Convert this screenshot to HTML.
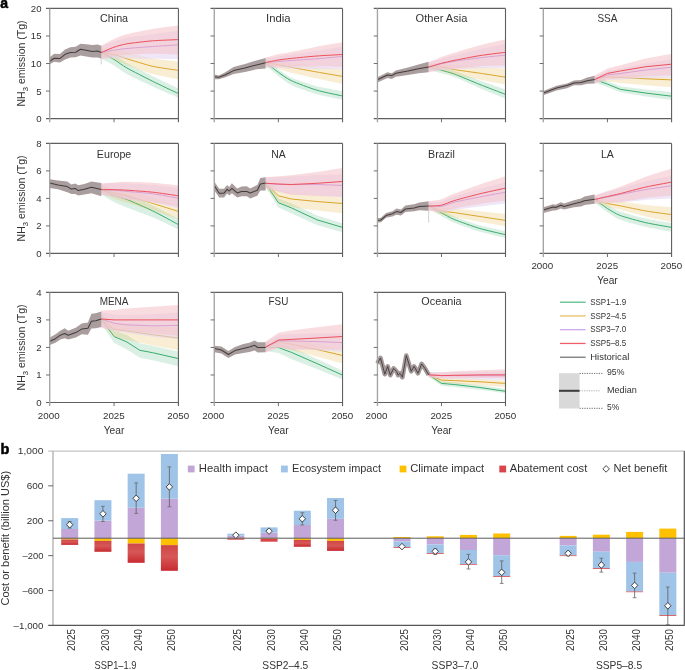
<!DOCTYPE html>
<html><head><meta charset="utf-8"><style>
html,body{margin:0;padding:0;background:#fff;}
body{width:685px;height:670px;overflow:hidden;}
svg{display:block;font-family:"Liberation Sans", sans-serif;will-change:transform;}
</style></head><body>
<svg width="685" height="670" viewBox="0 0 685 670">
<rect width="685" height="670" fill="#fff"/>
<path d="M101.19,48.5C102.69,49.26 111.06,53.31 114.07,55C117.07,56.69 122.43,60.53 126.94,63C131.44,65.47 146.68,73.2 152.68,76.15C158.69,79.1 175.43,86.88 178.43,88.3L178.43,97.7C175.43,96.39 158.69,89.19 152.68,86.45C146.68,83.71 131.44,76.63 126.94,74.2C122.43,71.77 117.07,67.43 114.07,65.6C111.06,63.77 102.69,59.33 101.19,58.5Z" fill="#3fb072" fill-opacity="0.19"/>
<path d="M101.19,52.5C102.69,53.32 111.06,57.69 114.07,59.5C117.07,61.31 122.43,65.46 126.94,68C131.44,70.54 146.68,78.31 152.68,81.3C158.69,84.29 175.43,92.16 178.43,93.6" fill="none" stroke="#38ad6c" stroke-width="1.0" stroke-linejoin="round"/>
<path d="M101.19,48.5C102.69,48.59 111.06,48.81 114.07,49.25C117.07,49.69 122.43,51.21 126.94,52.3C131.44,53.38 146.68,57.49 152.68,58.55C158.69,59.61 175.43,61.07 178.43,61.4L178.43,79.5C175.43,78.87 158.69,75.76 152.68,74.1C146.68,72.44 131.44,66.97 126.94,65.3C122.43,63.63 117.07,60.78 114.07,59.75C111.06,58.72 102.69,56.88 101.19,56.5Z" fill="#e6b84a" fill-opacity="0.24"/>
<path d="M101.19,52.5C102.69,52.73 111.06,53.77 114.07,54.5C117.07,55.23 122.43,57.42 126.94,58.8C131.44,60.18 146.68,64.95 152.68,66.3C158.69,67.65 175.43,69.92 178.43,70.4" fill="none" stroke="#dba52a" stroke-width="1.0" stroke-linejoin="round"/>
<path d="M101.19,46.5C102.69,45.94 111.06,42.75 114.07,41.7C117.07,40.65 122.43,38.38 126.94,37.5C131.44,36.62 146.68,34.9 152.68,34.15C158.69,33.4 175.43,31.46 178.43,31.1L178.43,59.4C175.43,59.33 158.69,58.9 152.68,58.8C146.68,58.7 131.44,58.54 126.94,58.5C122.43,58.46 117.07,58.39 114.07,58.45C111.06,58.51 102.69,58.94 101.19,59Z" fill="#e3d4f3" fill-opacity="0.58"/>
<path d="M101.19,52.5C102.69,52.23 111.06,50.67 114.07,50.2C117.07,49.73 122.43,48.93 126.94,48.5C131.44,48.07 146.68,46.93 152.68,46.5C158.69,46.07 175.43,45 178.43,44.8" fill="none" stroke="#b476e0" stroke-width="1.0" stroke-linejoin="round"/>
<path d="M101.19,45.5C102.69,44.73 111.06,40.22 114.07,38.9C117.07,37.58 122.43,35.36 126.94,34.2C131.44,33.04 146.68,29.96 152.68,28.95C158.69,27.93 175.43,25.9 178.43,25.5L178.43,54.7C175.43,54.6 158.69,53.84 152.68,53.85C146.68,53.86 131.44,54.55 126.94,54.8C122.43,55.04 117.07,55.46 114.07,55.95C111.06,56.44 102.69,58.64 101.19,59Z" fill="#f4c2c8" fill-opacity="0.58"/>
<path d="M101.19,52.5C102.69,51.88 111.06,48.22 114.07,47.2C117.07,46.19 122.43,44.55 126.94,43.8C131.44,43.05 146.68,41.29 152.68,40.8C158.69,40.31 175.43,39.74 178.43,39.6" fill="none" stroke="#ee4f5a" stroke-width="1.0" stroke-linejoin="round"/>
<path d="M49.7,57.3 L54.2,53.8 L59.9,54.1 L65.1,49.5 L70.4,47.3 L75.7,46.8 L80.5,43.8 L86.2,44.2 L92.3,45.1 L97.6,44.5 L101.3,45.7 L101.3,58.6 L97.6,57.6 L92.3,57.6 L86.2,56.5 L80.5,55.6 L75.7,57.3 L70.4,57.6 L65.1,59.5 L59.9,62.6 L54.2,61.7 L49.7,64.3Z" fill="#a99d9d"/>
<path d="M49.7,61.3 L54.2,58.2 L59.9,58.6 L65.1,54.3 L70.4,52.5 L75.7,52.3 L80.5,49.3 L86.2,50.3 L92.3,51.5 L97.6,51 L101.3,52.5" fill="none" stroke="#433d3e" stroke-width="1.05" stroke-linejoin="round"/>
<line x1="101.19" y1="58.6" x2="101.19" y2="64.4" stroke="#bdbdbd" stroke-width="0.7"/>
<line x1="46" y1="8.4" x2="178.43" y2="8.4" stroke="#5f5f5f" stroke-width="1.1"/>
<line x1="178.43" y1="8.4" x2="178.43" y2="122.26" stroke="#5f5f5f" stroke-width="1.1"/>
<line x1="46" y1="118.66" x2="178.43" y2="118.66" stroke="#5f5f5f" stroke-width="1.1"/>
<line x1="49.7" y1="8.4" x2="49.7" y2="122.26" stroke="#a3a3a3" stroke-width="1.35"/>
<line x1="46" y1="91.09" x2="49.7" y2="91.09" stroke="#5f5f5f" stroke-width="0.9"/>
<line x1="46" y1="63.53" x2="49.7" y2="63.53" stroke="#5f5f5f" stroke-width="0.9"/>
<line x1="46" y1="35.97" x2="49.7" y2="35.97" stroke="#5f5f5f" stroke-width="0.9"/>
<line x1="114.06" y1="118.66" x2="114.06" y2="122.26" stroke="#5f5f5f" stroke-width="0.9"/>
<text x="114.06" y="21.9" font-size="10.5" fill="#333333" text-anchor="middle" textLength="28.1" lengthAdjust="spacingAndGlyphs">China</text>
<path d="M265.57,59.5C267.06,60.64 275.4,67.19 278.39,69.3C281.39,71.41 286.73,75.61 291.22,77.6C295.71,79.59 310.9,84.75 316.88,86.35C322.87,87.95 339.55,90.72 342.54,91.3L342.54,99.9C339.55,99.25 322.87,96.05 316.88,94.3C310.9,92.55 295.71,87.04 291.22,84.9C286.73,82.76 281.39,78.21 278.39,75.95C275.4,73.69 267.06,66.72 265.57,65.5Z" fill="#3fb072" fill-opacity="0.19"/>
<path d="M265.57,62.5C267.06,63.64 275.4,70.19 278.39,72.3C281.39,74.41 286.73,78.51 291.22,80.6C295.71,82.69 310.9,88.4 316.88,90.2C322.87,92 339.55,95.32 342.54,96" fill="none" stroke="#38ad6c" stroke-width="1.0" stroke-linejoin="round"/>
<path d="M265.57,59.5C267.06,59.71 275.4,60.86 278.39,61.3C281.39,61.74 286.73,62.7 291.22,63.3C295.71,63.89 310.9,65.71 316.88,66.4C322.87,67.09 339.55,68.87 342.54,69.2L342.54,84C339.55,83.36 322.87,79.86 316.88,78.55C310.9,77.24 295.71,73.91 291.22,72.8C286.73,71.69 281.39,69.9 278.39,69.05C275.4,68.2 267.06,65.91 265.57,65.5Z" fill="#e6b84a" fill-opacity="0.24"/>
<path d="M265.57,62.5C267.06,62.77 275.4,64.24 278.39,64.8C281.39,65.36 286.73,66.46 291.22,67.3C295.71,68.14 310.9,70.94 316.88,72C322.87,73.06 339.55,75.89 342.54,76.4" fill="none" stroke="#dba52a" stroke-width="1.0" stroke-linejoin="round"/>
<path d="M265.57,58.5C267.06,58.27 275.4,56.97 278.39,56.5C281.39,56.03 286.73,55.16 291.22,54.5C295.71,53.84 310.9,51.74 316.88,50.8C322.87,49.85 339.55,46.91 342.54,46.4L342.54,69.2C339.55,69.2 322.87,69.28 316.88,69.2C310.9,69.12 295.71,68.64 291.22,68.5C286.73,68.36 281.39,68.12 278.39,68C275.4,67.88 267.06,67.56 265.57,67.5Z" fill="#e3d4f3" fill-opacity="0.58"/>
<path d="M265.57,62.5C267.06,62.38 275.4,61.73 278.39,61.5C281.39,61.27 286.73,60.81 291.22,60.5C295.71,60.19 310.9,59.28 316.88,58.8C322.87,58.32 339.55,56.68 342.54,56.4" fill="none" stroke="#b476e0" stroke-width="1.0" stroke-linejoin="round"/>
<path d="M265.57,57.5C267.06,57.12 275.4,54.9 278.39,54.25C281.39,53.6 286.73,52.79 291.22,51.9C295.71,51.01 310.9,47.77 316.88,46.65C322.87,45.53 339.55,42.81 342.54,42.3L342.54,66.8C339.55,66.72 322.87,66.2 316.88,66.15C310.9,66.1 295.71,66.36 291.22,66.4C286.73,66.44 281.39,66.37 278.39,66.5C275.4,66.63 267.06,67.38 265.57,67.5Z" fill="#f4c2c8" fill-opacity="0.58"/>
<path d="M265.57,62.5C267.06,62.21 275.4,60.48 278.39,60C281.39,59.52 286.73,58.87 291.22,58.4C295.71,57.93 310.9,56.45 316.88,56C322.87,55.55 339.55,54.67 342.54,54.5" fill="none" stroke="#ee4f5a" stroke-width="1.0" stroke-linejoin="round"/>
<path d="M214.4,74.5 L218.8,75.4 L224.9,72.6 L233.6,67.1 L245,64 L256.4,60.5 L265.6,57.9 L265.6,68.4 L256.4,69.3 L245,71.9 L233.6,74.1 L224.9,77.6 L218.8,79.3 L214.4,79.3Z" fill="#a99d9d"/>
<path d="M214.4,76.7 L218.8,77.2 L224.9,75 L233.6,70.6 L245,68 L256.4,64.9 L265.6,62.7" fill="none" stroke="#433d3e" stroke-width="1.05" stroke-linejoin="round"/>
<line x1="210.55" y1="8.4" x2="342.54" y2="8.4" stroke="#5f5f5f" stroke-width="1.1"/>
<line x1="342.54" y1="8.4" x2="342.54" y2="122.26" stroke="#5f5f5f" stroke-width="1.1"/>
<line x1="210.55" y1="118.66" x2="342.54" y2="118.66" stroke="#5f5f5f" stroke-width="1.1"/>
<line x1="214.25" y1="8.4" x2="214.25" y2="122.26" stroke="#a3a3a3" stroke-width="1.35"/>
<line x1="210.55" y1="91.09" x2="214.25" y2="91.09" stroke="#5f5f5f" stroke-width="0.9"/>
<line x1="210.55" y1="63.53" x2="214.25" y2="63.53" stroke="#5f5f5f" stroke-width="0.9"/>
<line x1="210.55" y1="35.97" x2="214.25" y2="35.97" stroke="#5f5f5f" stroke-width="0.9"/>
<line x1="278.39" y1="118.66" x2="278.39" y2="122.26" stroke="#5f5f5f" stroke-width="0.9"/>
<text x="278.39" y="21.9" font-size="10.5" fill="#333333" text-anchor="middle" textLength="24.5" lengthAdjust="spacingAndGlyphs">India</text>
<path d="M428.67,64C430.16,64.39 438.49,66.48 441.48,67.3C444.46,68.12 449.8,69.45 454.28,71C458.76,72.55 473.91,78.39 479.89,80.55C485.87,82.71 502.51,88.46 505.5,89.5L505.5,98.7C502.51,97.47 485.87,90.68 479.89,88.15C473.91,85.62 458.76,78.73 454.28,77C449.8,75.27 444.46,74.12 441.48,73.3C438.49,72.48 430.16,70.39 428.67,70Z" fill="#3fb072" fill-opacity="0.19"/>
<path d="M428.67,67C430.16,67.39 438.49,69.48 441.48,70.3C444.46,71.12 449.8,72.34 454.28,74C458.76,75.66 473.91,82.12 479.89,84.5C485.87,86.88 502.51,93.25 505.5,94.4" fill="none" stroke="#38ad6c" stroke-width="1.0" stroke-linejoin="round"/>
<path d="M428.67,64C430.16,63.89 438.49,62.92 441.48,63.05C444.46,63.18 449.8,64.68 454.28,65.1C458.76,65.52 473.91,66.24 479.89,66.65C485.87,67.06 502.51,68.37 505.5,68.6L505.5,84.6C502.51,84.02 485.87,80.76 479.89,79.65C473.91,78.54 458.76,76.1 454.28,75.1C449.8,74.1 444.46,71.64 441.48,71.05C438.49,70.45 430.16,70.12 428.67,70Z" fill="#e6b84a" fill-opacity="0.24"/>
<path d="M428.67,67C430.16,66.98 438.49,66.5 441.48,66.8C444.46,67.1 449.8,68.85 454.28,69.6C458.76,70.35 473.91,72.31 479.89,73.2C485.87,74.09 502.51,76.73 505.5,77.2" fill="none" stroke="#dba52a" stroke-width="1.0" stroke-linejoin="round"/>
<path d="M428.67,63C430.16,62.51 438.49,59.7 441.48,58.8C444.46,57.9 449.8,56.41 454.28,55.3C458.76,54.19 473.91,50.61 479.89,49.3C485.87,47.99 502.51,44.71 505.5,44.1L505.5,68C502.51,68.03 485.87,68.1 479.89,68.25C473.91,68.4 458.76,69.06 454.28,69.3C449.8,69.54 444.46,69.98 441.48,70.3C438.49,70.61 430.16,71.8 428.67,72Z" fill="#e3d4f3" fill-opacity="0.58"/>
<path d="M428.67,67C430.16,66.63 438.49,64.47 441.48,63.8C444.46,63.13 449.8,62 454.28,61.3C458.76,60.6 473.91,58.52 479.89,57.8C485.87,57.08 502.51,55.41 505.5,55.1" fill="none" stroke="#b476e0" stroke-width="1.0" stroke-linejoin="round"/>
<path d="M428.67,62C430.16,61.42 438.49,58.07 441.48,57C444.46,55.93 449.8,54.17 454.28,52.8C458.76,51.43 473.91,46.84 479.89,45.25C485.87,43.66 502.51,39.91 505.5,39.2L505.5,65.6C502.51,65.68 485.87,65.92 479.89,66.25C473.91,66.58 458.76,67.99 454.28,68.4C449.8,68.81 444.46,69.38 441.48,69.8C438.49,70.22 430.16,71.74 428.67,72Z" fill="#f4c2c8" fill-opacity="0.58"/>
<path d="M428.67,67C430.16,66.57 438.49,64.07 441.48,63.3C444.46,62.53 449.8,61.3 454.28,60.4C458.76,59.5 473.91,56.55 479.89,55.6C485.87,54.66 502.51,52.68 505.5,52.3" fill="none" stroke="#ee4f5a" stroke-width="1.0" stroke-linejoin="round"/>
<path d="M377.4,77.2 L387.5,72.3 L391.8,73.2 L395.8,70.6 L408,67.5 L418.5,64.5 L428.6,61.8 L428.6,72.3 L418.5,73.2 L408,75 L395.8,76.7 L391.8,78.9 L387.5,77.9 L377.4,82.4Z" fill="#a99d9d"/>
<path d="M377.4,79.8 L387.5,75 L391.8,75.6 L395.8,73.2 L408,71 L418.5,68.8 L428.6,67.1" fill="none" stroke="#433d3e" stroke-width="1.05" stroke-linejoin="round"/>
<line x1="373.75" y1="8.4" x2="505.5" y2="8.4" stroke="#5f5f5f" stroke-width="1.1"/>
<line x1="505.5" y1="8.4" x2="505.5" y2="122.26" stroke="#5f5f5f" stroke-width="1.1"/>
<line x1="373.75" y1="118.66" x2="505.5" y2="118.66" stroke="#5f5f5f" stroke-width="1.1"/>
<line x1="377.45" y1="8.4" x2="377.45" y2="122.26" stroke="#a3a3a3" stroke-width="1.35"/>
<line x1="373.75" y1="91.09" x2="377.45" y2="91.09" stroke="#5f5f5f" stroke-width="0.9"/>
<line x1="373.75" y1="63.53" x2="377.45" y2="63.53" stroke="#5f5f5f" stroke-width="0.9"/>
<line x1="373.75" y1="35.97" x2="377.45" y2="35.97" stroke="#5f5f5f" stroke-width="0.9"/>
<line x1="441.48" y1="118.66" x2="441.48" y2="122.26" stroke="#5f5f5f" stroke-width="0.9"/>
<text x="441.48" y="21.9" font-size="10.5" fill="#333333" text-anchor="middle" textLength="51.7" lengthAdjust="spacingAndGlyphs">Other Asia</text>
<path d="M594.61,76.5 L607.43,81.1 L620.26,86.3 L645.92,89.55 L671.57,92.1 L671.57,100.1 L645.92,96.55 L620.26,92.3 L607.43,87.1 L594.61,82.5Z" fill="#3fb072" fill-opacity="0.19"/>
<path d="M594.61,79.5 L607.43,84.1 L620.26,89.3 L645.92,93.1 L671.57,96.2" fill="none" stroke="#38ad6c" stroke-width="1.0" stroke-linejoin="round"/>
<path d="M594.61,76.5 L607.43,73.9 L620.26,74.5 L645.92,76.05 L671.57,77.4 L671.57,87.2 L645.92,85.2 L620.26,83 L607.43,81.15 L594.61,82.5Z" fill="#e6b84a" fill-opacity="0.24"/>
<path d="M594.61,79.5 L607.43,76.9 L620.26,77.5 L645.92,78.8 L671.57,79.9" fill="none" stroke="#dba52a" stroke-width="1.0" stroke-linejoin="round"/>
<path d="M594.61,76.5 L607.43,71 L620.26,68.5 L645.92,63.5 L671.57,59.2 L671.57,77.4 L645.92,78.1 L620.26,79.5 L607.43,80 L594.61,83.5Z" fill="#e3d4f3" fill-opacity="0.58"/>
<path d="M594.61,79.5 L607.43,75 L620.26,73.5 L645.92,70 L671.57,67.2" fill="none" stroke="#b476e0" stroke-width="1.0" stroke-linejoin="round"/>
<path d="M594.61,75.5 L607.43,68.55 L620.26,65.3 L645.92,58.6 L671.57,53.7 L671.57,75.6 L645.92,75.9 L620.26,78 L607.43,78.9 L594.61,83.5Z" fill="#f4c2c8" fill-opacity="0.58"/>
<path d="M594.61,79.5 L607.43,73.4 L620.26,71 L645.92,66.7 L671.57,64.2" fill="none" stroke="#ee4f5a" stroke-width="1.0" stroke-linejoin="round"/>
<path d="M543.4,91.1 L556.5,85.8 L567,83.4 L574,80.6 L581,80.1 L587.2,77.4 L594.6,75.7 L594.6,83.4 L587.2,83.8 L581,85.3 L574,85.3 L567,88.2 L556.5,90.4 L543.4,95.2Z" fill="#a99d9d"/>
<path d="M543.4,93 L556.5,88 L567,85.6 L574,83 L581,82.5 L587.2,80.8 L594.6,79.5" fill="none" stroke="#433d3e" stroke-width="1.05" stroke-linejoin="round"/>
<line x1="539.6" y1="8.4" x2="671.57" y2="8.4" stroke="#5f5f5f" stroke-width="1.1"/>
<line x1="671.57" y1="8.4" x2="671.57" y2="122.26" stroke="#5f5f5f" stroke-width="1.1"/>
<line x1="539.6" y1="118.66" x2="671.57" y2="118.66" stroke="#5f5f5f" stroke-width="1.1"/>
<line x1="543.3" y1="8.4" x2="543.3" y2="122.26" stroke="#a3a3a3" stroke-width="1.35"/>
<line x1="539.6" y1="91.09" x2="543.3" y2="91.09" stroke="#5f5f5f" stroke-width="0.9"/>
<line x1="539.6" y1="63.53" x2="543.3" y2="63.53" stroke="#5f5f5f" stroke-width="0.9"/>
<line x1="539.6" y1="35.97" x2="543.3" y2="35.97" stroke="#5f5f5f" stroke-width="0.9"/>
<line x1="607.43" y1="118.66" x2="607.43" y2="122.26" stroke="#5f5f5f" stroke-width="0.9"/>
<text x="607.43" y="21.9" font-size="10.5" fill="#333333" text-anchor="middle" textLength="20" lengthAdjust="spacingAndGlyphs">SSA</text>
<path d="M101.19,185.6C102.69,186.23 111.06,189.96 114.07,191C117.07,192.04 122.43,192.8 126.94,194.5C131.44,196.2 146.68,202.74 152.68,205.6C158.69,208.46 175.43,217.44 178.43,219L178.43,229.5C175.43,228.08 158.69,219.92 152.68,217.35C146.68,214.78 131.44,209.29 126.94,207.5C122.43,205.71 117.07,203.5 114.07,202C111.06,200.5 102.69,195.46 101.19,194.6Z" fill="#3fb072" fill-opacity="0.19"/>
<path d="M101.19,189.6C102.69,190.29 111.06,194.34 114.07,195.5C117.07,196.66 122.43,197.7 126.94,199.5C131.44,201.3 146.68,207.97 152.68,210.9C158.69,213.83 175.43,223 178.43,224.6" fill="none" stroke="#38ad6c" stroke-width="1.0" stroke-linejoin="round"/>
<path d="M101.19,185.6C102.69,185.94 111.06,188 114.07,188.55C117.07,189.1 122.43,189.24 126.94,190.3C131.44,191.36 146.68,195.89 152.68,197.65C158.69,199.41 175.43,204.5 178.43,205.4L178.43,219C175.43,218.03 158.69,212.59 152.68,210.7C146.68,208.81 131.44,204.19 126.94,202.8C122.43,201.41 117.07,199.87 114.07,198.8C111.06,197.73 102.69,194.21 101.19,193.6Z" fill="#e6b84a" fill-opacity="0.24"/>
<path d="M101.19,189.6C102.69,190.03 111.06,192.58 114.07,193.3C117.07,194.02 122.43,194.62 126.94,195.8C131.44,196.98 146.68,201.58 152.68,203.4C158.69,205.22 175.43,210.47 178.43,211.4" fill="none" stroke="#dba52a" stroke-width="1.0" stroke-linejoin="round"/>
<path d="M101.19,183.6C102.69,183.56 111.06,183.32 114.07,183.3C117.07,183.28 122.43,183.22 126.94,183.4C131.44,183.58 146.68,184.24 152.68,184.8C158.69,185.36 175.43,187.8 178.43,188.2L178.43,208.2C175.43,207.57 158.69,203.83 152.68,202.8C146.68,201.77 131.44,200.1 126.94,199.4C122.43,198.7 117.07,197.36 114.07,196.8C111.06,196.24 102.69,194.86 101.19,194.6Z" fill="#e3d4f3" fill-opacity="0.58"/>
<path d="M101.19,189.6C102.69,189.68 111.06,190.09 114.07,190.3C117.07,190.51 122.43,190.99 126.94,191.4C131.44,191.81 146.68,193.01 152.68,193.8C158.69,194.59 175.43,197.69 178.43,198.2" fill="none" stroke="#b476e0" stroke-width="1.0" stroke-linejoin="round"/>
<path d="M101.19,183.6C102.69,183.47 111.06,182.67 114.07,182.45C117.07,182.23 122.43,181.67 126.94,181.7C131.44,181.73 146.68,182.28 152.68,182.7C158.69,183.12 175.43,185 178.43,185.3L178.43,206.2C175.43,205.7 158.69,202.72 152.68,201.9C146.68,201.08 131.44,199.81 126.94,199.2C122.43,198.59 117.07,197.24 114.07,196.7C111.06,196.16 102.69,194.84 101.19,194.6Z" fill="#f4c2c8" fill-opacity="0.58"/>
<path d="M101.19,189.6C102.69,189.61 111.06,189.63 114.07,189.7C117.07,189.77 122.43,189.91 126.94,190.2C131.44,190.49 146.68,191.55 152.68,192.2C158.69,192.85 175.43,195.38 178.43,195.8" fill="none" stroke="#ee4f5a" stroke-width="1.0" stroke-linejoin="round"/>
<path d="M49.8,179.2 L58.1,180.5 L67.3,181.4 L71.3,184.5 L75.2,183.6 L78.3,185.3 L84.4,184 L91.4,181.4 L101.3,183.1 L101.3,196.3 L91.4,193.2 L84.4,194.5 L78.3,195.6 L75.2,194.1 L71.3,194.1 L67.3,192.3 L58.1,189.3 L49.8,188Z" fill="#a99d9d"/>
<path d="M49.8,183.1 L58.1,184.9 L67.3,186.6 L71.3,189.1 L75.2,188.4 L78.3,190.6 L84.4,189.3 L91.4,187.3 L101.3,189.4" fill="none" stroke="#433d3e" stroke-width="1.05" stroke-linejoin="round"/>
<line x1="46" y1="143.4" x2="178.43" y2="143.4" stroke="#5f5f5f" stroke-width="1.1"/>
<line x1="178.43" y1="143.4" x2="178.43" y2="257" stroke="#5f5f5f" stroke-width="1.1"/>
<line x1="46" y1="253.4" x2="178.43" y2="253.4" stroke="#5f5f5f" stroke-width="1.1"/>
<line x1="49.7" y1="143.4" x2="49.7" y2="257" stroke="#a3a3a3" stroke-width="1.35"/>
<line x1="46" y1="225.9" x2="49.7" y2="225.9" stroke="#5f5f5f" stroke-width="0.9"/>
<line x1="46" y1="198.4" x2="49.7" y2="198.4" stroke="#5f5f5f" stroke-width="0.9"/>
<line x1="46" y1="170.9" x2="49.7" y2="170.9" stroke="#5f5f5f" stroke-width="0.9"/>
<line x1="114.06" y1="253.4" x2="114.06" y2="257" stroke="#5f5f5f" stroke-width="0.9"/>
<text x="114.06" y="157.8" font-size="10.5" fill="#333333" text-anchor="middle" textLength="34.4" lengthAdjust="spacingAndGlyphs">Europe</text>
<path d="M265.57,179.3 L278.39,198.45 L291.22,203.3 L316.88,215.45 L342.54,223.2 L342.54,232.3 L316.88,225 L291.22,213.3 L278.39,207.45 L265.57,187.3Z" fill="#3fb072" fill-opacity="0.19"/>
<path d="M265.57,183.3 L278.39,202.7 L291.22,207.8 L316.88,219.8 L342.54,227.4" fill="none" stroke="#38ad6c" stroke-width="1.0" stroke-linejoin="round"/>
<path d="M265.57,179.3 L278.39,190.8 L291.22,193 L316.88,195.45 L342.54,197.4 L342.54,213.3 L316.88,210.4 L291.22,207 L278.39,201.8 L265.57,187.3Z" fill="#e6b84a" fill-opacity="0.24"/>
<path d="M265.57,183.3 L278.39,195.8 L291.22,199 L316.88,201.5 L342.54,203.5" fill="none" stroke="#dba52a" stroke-width="1.0" stroke-linejoin="round"/>
<path d="M265.57,177.3 L278.39,177.3 L291.22,176.6 L316.88,175 L342.54,174.4 L342.54,197.4 L316.88,195.5 L291.22,194.6 L278.39,191.8 L265.57,188.3Z" fill="#e3d4f3" fill-opacity="0.58"/>
<path d="M265.57,183.3 L278.39,184.3 L291.22,184.6 L316.88,184.5 L342.54,185.4" fill="none" stroke="#b476e0" stroke-width="1.0" stroke-linejoin="round"/>
<path d="M265.57,177.3 L278.39,176.35 L291.22,175.2 L316.88,171.9 L342.54,168 L342.54,196.8 L316.88,195.95 L291.22,194.5 L278.39,191.5 L265.57,188.3Z" fill="#f4c2c8" fill-opacity="0.58"/>
<path d="M265.57,183.3 L278.39,184 L291.22,184.5 L316.88,183.3 L342.54,181.5" fill="none" stroke="#ee4f5a" stroke-width="1.0" stroke-linejoin="round"/>
<path d="M214.4,181.8 L219.2,188.8 L224,188.8 L227.1,185.1 L229.3,187.1 L231.9,183.3 L237.2,188.4 L241.5,186.6 L246.8,186.2 L250.3,188.4 L257.3,184.9 L260.4,177.9 L265.6,177.2 L265.6,190.6 L260.4,190.6 L257.3,195.8 L250.3,198.5 L246.8,196.3 L241.5,196.3 L237.2,197.6 L231.9,193.2 L229.3,195.4 L227.1,193.6 L224,197.6 L219.2,197.6 L214.4,190.6Z" fill="#a99d9d"/>
<path d="M214.4,185.8 L219.2,193.2 L224,193.2 L227.1,189.3 L229.3,191 L231.9,188.4 L237.2,192.9 L241.5,191.5 L246.8,191.5 L250.3,192.9 L257.3,190.3 L260.4,184 L265.6,183.1" fill="none" stroke="#433d3e" stroke-width="1.05" stroke-linejoin="round"/>
<line x1="210.55" y1="143.4" x2="342.54" y2="143.4" stroke="#5f5f5f" stroke-width="1.1"/>
<line x1="342.54" y1="143.4" x2="342.54" y2="257" stroke="#5f5f5f" stroke-width="1.1"/>
<line x1="210.55" y1="253.4" x2="342.54" y2="253.4" stroke="#5f5f5f" stroke-width="1.1"/>
<line x1="214.25" y1="143.4" x2="214.25" y2="257" stroke="#a3a3a3" stroke-width="1.35"/>
<line x1="210.55" y1="225.9" x2="214.25" y2="225.9" stroke="#5f5f5f" stroke-width="0.9"/>
<line x1="210.55" y1="198.4" x2="214.25" y2="198.4" stroke="#5f5f5f" stroke-width="0.9"/>
<line x1="210.55" y1="170.9" x2="214.25" y2="170.9" stroke="#5f5f5f" stroke-width="0.9"/>
<line x1="278.39" y1="253.4" x2="278.39" y2="257" stroke="#5f5f5f" stroke-width="0.9"/>
<text x="278.39" y="157.8" font-size="10.5" fill="#333333" text-anchor="middle" textLength="14.5" lengthAdjust="spacingAndGlyphs">NA</text>
<path d="M428.67,203.1C430.16,203.88 438.49,208.24 441.48,209.8C444.46,211.36 449.8,214.7 454.28,216.5C458.76,218.3 473.91,223.53 479.89,225.25C485.87,226.97 502.51,230.51 505.5,231.2L505.5,238C502.51,237.27 485.87,233.53 479.89,231.75C473.91,229.97 458.76,224.55 454.28,222.7C449.8,220.85 444.46,217.49 441.48,215.9C438.49,214.31 430.16,209.89 428.67,209.1Z" fill="#3fb072" fill-opacity="0.19"/>
<path d="M428.67,206.1C430.16,206.88 438.49,211.24 441.48,212.8C444.46,214.36 449.8,217.67 454.28,219.5C458.76,221.33 473.91,226.73 479.89,228.5C485.87,230.27 502.51,233.98 505.5,234.7" fill="none" stroke="#38ad6c" stroke-width="1.0" stroke-linejoin="round"/>
<path d="M428.67,203.1C430.16,203.61 438.49,206.86 441.48,207.5C444.46,208.14 449.8,208.16 454.28,208.6C458.76,209.04 473.91,210.67 479.89,211.3C485.87,211.93 502.51,213.69 505.5,214L505.5,226.3C502.51,225.77 485.87,222.81 479.89,221.75C473.91,220.69 458.76,218.01 454.28,217.2C449.8,216.39 444.46,215.75 441.48,214.8C438.49,213.86 430.16,209.76 428.67,209.1Z" fill="#e6b84a" fill-opacity="0.24"/>
<path d="M428.67,206.1C430.16,206.67 438.49,210.24 441.48,211C444.46,211.76 449.8,211.96 454.28,212.6C458.76,213.24 473.91,215.59 479.89,216.5C485.87,217.41 502.51,219.94 505.5,220.4" fill="none" stroke="#dba52a" stroke-width="1.0" stroke-linejoin="round"/>
<path d="M428.67,202.1C430.16,202.02 438.49,202.09 441.48,201.4C444.46,200.71 449.8,197.66 454.28,196.2C458.76,194.74 473.91,190.53 479.89,188.9C485.87,187.27 502.51,182.98 505.5,182.2L505.5,203.6C502.51,203.95 485.87,205.83 479.89,206.6C473.91,207.37 458.76,209.52 454.28,210.2C449.8,210.88 444.46,212.41 441.48,212.4C438.49,212.39 430.16,210.37 428.67,210.1Z" fill="#e3d4f3" fill-opacity="0.58"/>
<path d="M428.67,206.1C430.16,206.13 438.49,206.86 441.48,206.4C444.46,205.94 449.8,203.31 454.28,202.2C458.76,201.09 473.91,198.07 479.89,196.9C485.87,195.73 502.51,192.75 505.5,192.2" fill="none" stroke="#b476e0" stroke-width="1.0" stroke-linejoin="round"/>
<path d="M428.67,201.1C430.16,200.88 438.49,200.07 441.48,199.2C444.46,198.32 449.8,195.33 454.28,193.6C458.76,191.87 473.91,186.42 479.89,184.4C485.87,182.38 502.51,177.24 505.5,176.3L505.5,200.6C502.51,201 485.87,203.12 479.89,204.05C473.91,204.98 458.76,207.71 454.28,208.6C449.8,209.49 444.46,211.41 441.48,211.7C438.49,211.99 430.16,211.17 428.67,211.1Z" fill="#f4c2c8" fill-opacity="0.58"/>
<path d="M428.67,206.1C430.16,206 438.49,205.84 441.48,205.2C444.46,204.56 449.8,201.93 454.28,200.6C458.76,199.27 473.91,195.26 479.89,193.8C485.87,192.34 502.51,188.76 505.5,188.1" fill="none" stroke="#ee4f5a" stroke-width="1.0" stroke-linejoin="round"/>
<path d="M377.4,218.2 L380.9,217.8 L386.1,213 L392.3,211.2 L396.6,208.6 L401,209.5 L405.4,205.5 L414.2,204.2 L419.4,202.4 L428.6,201.3 L428.6,210.8 L419.4,210.3 L414.2,211.2 L405.4,212.1 L401,215.6 L396.6,214.7 L392.3,216.5 L386.1,217.8 L380.9,222.2 L377.4,222.6Z" fill="#a99d9d"/>
<path d="M377.4,220.4 L380.9,220 L386.1,215.6 L392.3,213.8 L396.6,211.6 L401,212.5 L405.4,209 L414.2,208.1 L419.4,206.4 L428.6,206" fill="none" stroke="#433d3e" stroke-width="1.05" stroke-linejoin="round"/>
<line x1="428.67" y1="210.8" x2="428.67" y2="222.6" stroke="#bdbdbd" stroke-width="0.7"/>
<line x1="373.75" y1="143.4" x2="505.5" y2="143.4" stroke="#5f5f5f" stroke-width="1.1"/>
<line x1="505.5" y1="143.4" x2="505.5" y2="257" stroke="#5f5f5f" stroke-width="1.1"/>
<line x1="373.75" y1="253.4" x2="505.5" y2="253.4" stroke="#5f5f5f" stroke-width="1.1"/>
<line x1="377.45" y1="143.4" x2="377.45" y2="257" stroke="#a3a3a3" stroke-width="1.35"/>
<line x1="373.75" y1="225.9" x2="377.45" y2="225.9" stroke="#5f5f5f" stroke-width="0.9"/>
<line x1="373.75" y1="198.4" x2="377.45" y2="198.4" stroke="#5f5f5f" stroke-width="0.9"/>
<line x1="373.75" y1="170.9" x2="377.45" y2="170.9" stroke="#5f5f5f" stroke-width="0.9"/>
<line x1="441.48" y1="253.4" x2="441.48" y2="257" stroke="#5f5f5f" stroke-width="0.9"/>
<text x="441.48" y="157.8" font-size="10.5" fill="#333333" text-anchor="middle" textLength="26.7" lengthAdjust="spacingAndGlyphs">Brazil</text>
<path d="M594.61,196.5C596.1,197.49 604.44,203.25 607.43,205C610.43,206.75 615.77,209.91 620.26,211.5C624.75,213.09 639.93,217.23 645.92,218.6C651.9,219.97 668.58,222.66 671.57,223.2L671.57,231.7C668.58,231.15 651.9,228.39 645.92,227C639.93,225.61 624.75,221.53 620.26,219.8C615.77,218.07 610.43,214.17 607.43,212.15C604.44,210.13 596.1,203.63 594.61,202.5Z" fill="#3fb072" fill-opacity="0.19"/>
<path d="M594.61,199.5C596.1,200.55 604.44,206.63 607.43,208.5C610.43,210.37 615.77,213.84 620.26,215.5C624.75,217.16 639.93,221.31 645.92,222.7C651.9,224.09 668.58,226.85 671.57,227.4" fill="none" stroke="#38ad6c" stroke-width="1.0" stroke-linejoin="round"/>
<path d="M594.61,196.5C596.1,196.88 604.44,199.19 607.43,199.75C610.43,200.31 615.77,200.68 620.26,201.3C624.75,201.92 639.93,204.36 645.92,205.05C651.9,205.74 668.58,206.95 671.57,207.2L671.57,221.9C668.58,221.29 651.9,218.06 645.92,216.65C639.93,215.24 624.75,210.93 620.26,209.8C615.77,208.67 610.43,207.85 607.43,207C604.44,206.15 596.1,203.03 594.61,202.5Z" fill="#e6b84a" fill-opacity="0.24"/>
<path d="M594.61,199.5C596.1,199.97 604.44,202.76 607.43,203.5C610.43,204.24 615.77,204.93 620.26,205.8C624.75,206.68 639.93,209.97 645.92,211C651.9,212.03 668.58,214.18 671.57,214.6" fill="none" stroke="#dba52a" stroke-width="1.0" stroke-linejoin="round"/>
<path d="M594.61,195.5C596.1,195.09 604.44,192.82 607.43,192C610.43,191.18 615.77,189.72 620.26,188.5C624.75,187.28 639.93,182.98 645.92,181.5C651.9,180.02 668.58,176.47 671.57,175.8L671.57,198.6C668.58,198.75 651.9,199.45 645.92,199.9C639.93,200.35 624.75,202.14 620.26,202.5C615.77,202.86 610.43,202.88 607.43,203C604.44,203.12 596.1,203.44 594.61,203.5Z" fill="#e3d4f3" fill-opacity="0.58"/>
<path d="M594.61,199.5C596.1,199.21 604.44,197.58 607.43,197C610.43,196.42 615.77,195.38 620.26,194.5C624.75,193.62 639.93,190.51 645.92,189.5C651.9,188.49 668.58,186.23 671.57,185.8" fill="none" stroke="#b476e0" stroke-width="1.0" stroke-linejoin="round"/>
<path d="M594.61,195.5C596.1,194.99 604.44,192.12 607.43,191.1C610.43,190.08 615.77,188.46 620.26,186.8C624.75,185.14 639.93,178.97 645.92,176.85C651.9,174.73 668.58,169.56 671.57,168.6L671.57,195.6C668.58,195.88 651.9,197.24 645.92,198C639.93,198.76 624.75,201.55 620.26,202.1C615.77,202.65 610.43,202.59 607.43,202.75C604.44,202.91 596.1,203.41 594.61,203.5Z" fill="#f4c2c8" fill-opacity="0.58"/>
<path d="M594.61,199.5C596.1,199.15 604.44,197.19 607.43,196.5C610.43,195.81 615.77,194.71 620.26,193.6C624.75,192.49 639.93,188.34 645.92,187C651.9,185.66 668.58,182.67 671.57,182.1" fill="none" stroke="#ee4f5a" stroke-width="1.0" stroke-linejoin="round"/>
<path d="M543.4,207.3 L553,204.3 L555.6,204.7 L560.9,202.3 L564,203.4 L574,200.3 L581,198.6 L584.5,196.4 L594.6,194.6 L594.6,203.8 L584.5,205 L581,206.5 L574,207.3 L564,209.5 L560.9,208.5 L555.6,210.4 L553,210.4 L543.4,212.9Z" fill="#a99d9d"/>
<path d="M543.4,210 L553,206.9 L555.6,207.6 L560.9,205.3 L564,206.5 L574,203.8 L581,202.1 L584.5,200.8 L594.6,199.2" fill="none" stroke="#433d3e" stroke-width="1.05" stroke-linejoin="round"/>
<line x1="539.6" y1="143.4" x2="671.57" y2="143.4" stroke="#5f5f5f" stroke-width="1.1"/>
<line x1="671.57" y1="143.4" x2="671.57" y2="257" stroke="#5f5f5f" stroke-width="1.1"/>
<line x1="539.6" y1="253.4" x2="671.57" y2="253.4" stroke="#5f5f5f" stroke-width="1.1"/>
<line x1="543.3" y1="143.4" x2="543.3" y2="257" stroke="#a3a3a3" stroke-width="1.35"/>
<line x1="539.6" y1="225.9" x2="543.3" y2="225.9" stroke="#5f5f5f" stroke-width="0.9"/>
<line x1="539.6" y1="198.4" x2="543.3" y2="198.4" stroke="#5f5f5f" stroke-width="0.9"/>
<line x1="539.6" y1="170.9" x2="543.3" y2="170.9" stroke="#5f5f5f" stroke-width="0.9"/>
<line x1="607.43" y1="253.4" x2="607.43" y2="257" stroke="#5f5f5f" stroke-width="0.9"/>
<text x="607.43" y="157.8" font-size="10.5" fill="#333333" text-anchor="middle" textLength="12.9" lengthAdjust="spacingAndGlyphs">LA</text>
<path d="M101.19,314 L114.07,330.5 L126.94,335 L139.81,343.28 L152.68,345.65 L178.43,351.5 L178.43,366.2 L152.68,360.25 L139.81,357.82 L126.94,349.5 L114.07,342.75 L101.19,324Z" fill="#3fb072" fill-opacity="0.19"/>
<path d="M101.19,319 L114.07,336.5 L126.94,342 L139.81,350.3 L152.68,352.7 L178.43,358.6" fill="none" stroke="#38ad6c" stroke-width="1.0" stroke-linejoin="round"/>
<path d="M101.19,314 L114.07,322.9 L126.94,322.9 L152.68,325.7 L178.43,328 L178.43,350.3 L152.68,345.35 L126.94,339.9 L114.07,336.4 L101.19,324Z" fill="#e6b84a" fill-opacity="0.24"/>
<path d="M101.19,319 L114.07,329.4 L126.94,330.9 L152.68,334.7 L178.43,338" fill="none" stroke="#dba52a" stroke-width="1.0" stroke-linejoin="round"/>
<path d="M101.19,312 L114.07,314.8 L126.94,314.9 L152.68,314.3 L178.43,312.4 L178.43,339.2 L152.68,336.7 L126.94,332.9 L114.07,331.3 L101.19,327Z" fill="#e3d4f3" fill-opacity="0.58"/>
<path d="M101.19,319 L114.07,323.3 L126.94,324.9 L152.68,325.8 L178.43,325.4" fill="none" stroke="#b476e0" stroke-width="1.0" stroke-linejoin="round"/>
<path d="M101.19,310.5 L114.07,309.9 L126.94,308.4 L152.68,306.65 L178.43,304.9 L178.43,335.6 L152.68,333.25 L126.94,330.9 L114.07,329.9 L101.19,328Z" fill="#f4c2c8" fill-opacity="0.58"/>
<path d="M101.19,319 L114.07,319.9 L126.94,319.9 L152.68,319.9 L178.43,319.9" fill="none" stroke="#ee4f5a" stroke-width="1.0" stroke-linejoin="round"/>
<path d="M49.8,337.4 L55.5,334.3 L60.3,330.8 L64.7,328.2 L68.2,330.8 L75.7,327.8 L81.8,323.4 L87.9,322.5 L91.4,313.8 L95.8,313.3 L101.3,311.6 L101.3,326.9 L95.8,328.2 L91.4,328.6 L87.9,334.8 L81.8,334.3 L75.7,337.4 L68.2,339.6 L64.7,338.3 L60.3,339.6 L55.5,342.7 L49.8,344.9Z" fill="#a99d9d"/>
<path d="M49.8,341.3 L55.5,338.7 L60.3,335.2 L64.7,333.5 L68.2,335.2 L75.7,332.6 L81.8,329.1 L87.9,328.2 L91.4,321.2 L95.8,320.8 L101.3,319" fill="none" stroke="#433d3e" stroke-width="1.05" stroke-linejoin="round"/>
<line x1="46" y1="292.4" x2="178.43" y2="292.4" stroke="#5f5f5f" stroke-width="1.1"/>
<line x1="178.43" y1="292.4" x2="178.43" y2="406.1" stroke="#5f5f5f" stroke-width="1.1"/>
<line x1="46" y1="402.5" x2="178.43" y2="402.5" stroke="#5f5f5f" stroke-width="1.1"/>
<line x1="49.7" y1="292.4" x2="49.7" y2="406.1" stroke="#a3a3a3" stroke-width="1.35"/>
<line x1="46" y1="374.98" x2="49.7" y2="374.98" stroke="#5f5f5f" stroke-width="0.9"/>
<line x1="46" y1="347.45" x2="49.7" y2="347.45" stroke="#5f5f5f" stroke-width="0.9"/>
<line x1="46" y1="319.92" x2="49.7" y2="319.92" stroke="#5f5f5f" stroke-width="0.9"/>
<line x1="114.06" y1="402.5" x2="114.06" y2="406.1" stroke="#5f5f5f" stroke-width="0.9"/>
<text x="114.06" y="304.7" font-size="10.5" fill="#333333" text-anchor="middle" textLength="28.8" lengthAdjust="spacingAndGlyphs">MENA</text>
<path d="M265.57,343.1 L278.39,343 L291.22,347.3 L316.88,358.85 L342.54,370.8 L342.54,379.4 L316.88,369.05 L291.22,359.1 L278.39,352.9 L265.57,351.1Z" fill="#3fb072" fill-opacity="0.19"/>
<path d="M265.57,347.1 L278.39,347.5 L291.22,352.3 L316.88,363.5 L342.54,375.1" fill="none" stroke="#38ad6c" stroke-width="1.0" stroke-linejoin="round"/>
<path d="M265.57,343.1 L278.39,337.5 L291.22,339.2 L316.88,344 L342.54,349.5 L342.54,363.4 L316.88,356.45 L291.22,350.2 L278.39,347 L265.57,351.1Z" fill="#e6b84a" fill-opacity="0.24"/>
<path d="M265.57,347.1 L278.39,342 L291.22,344.2 L316.88,349.5 L342.54,355.5" fill="none" stroke="#dba52a" stroke-width="1.0" stroke-linejoin="round"/>
<path d="M265.57,342.1 L278.39,334.8 L291.22,334 L316.88,333.6 L342.54,333.6 L342.54,351.8 L316.88,350.2 L291.22,349 L278.39,347.3 L265.57,352.1Z" fill="#e3d4f3" fill-opacity="0.58"/>
<path d="M265.57,347.1 L278.39,340.8 L291.22,341 L316.88,341.6 L342.54,342.6" fill="none" stroke="#b476e0" stroke-width="1.0" stroke-linejoin="round"/>
<path d="M265.57,341.4 L278.39,332.75 L291.22,330.4 L316.88,327.35 L342.54,324.2 L342.54,349.3 L316.88,349.4 L291.22,349.4 L278.39,347.85 L265.57,352.6Z" fill="#f4c2c8" fill-opacity="0.58"/>
<path d="M265.57,347.1 L278.39,340.1 L291.22,339.4 L316.88,338 L342.54,336.5" fill="none" stroke="#ee4f5a" stroke-width="1.0" stroke-linejoin="round"/>
<path d="M214.4,345.8 L221.4,346.6 L228.4,351 L235,347.1 L243.3,344 L249.4,342.7 L254.7,340.5 L257.7,342.3 L265.6,342.3 L265.6,352.3 L257.7,352.6 L254.7,350.6 L249.4,351.9 L243.3,353 L235,354.5 L228.4,357.9 L221.4,353.5 L214.4,352.3Z" fill="#a99d9d"/>
<path d="M214.4,348.4 L221.4,350 L228.4,354.5 L235,350.6 L243.3,348.6 L249.4,347.1 L254.7,345.3 L257.7,347.5 L265.6,347.5" fill="none" stroke="#433d3e" stroke-width="1.05" stroke-linejoin="round"/>
<line x1="210.55" y1="292.4" x2="342.54" y2="292.4" stroke="#5f5f5f" stroke-width="1.1"/>
<line x1="342.54" y1="292.4" x2="342.54" y2="406.1" stroke="#5f5f5f" stroke-width="1.1"/>
<line x1="210.55" y1="402.5" x2="342.54" y2="402.5" stroke="#5f5f5f" stroke-width="1.1"/>
<line x1="214.25" y1="292.4" x2="214.25" y2="406.1" stroke="#a3a3a3" stroke-width="1.35"/>
<line x1="210.55" y1="374.98" x2="214.25" y2="374.98" stroke="#5f5f5f" stroke-width="0.9"/>
<line x1="210.55" y1="347.45" x2="214.25" y2="347.45" stroke="#5f5f5f" stroke-width="0.9"/>
<line x1="210.55" y1="319.92" x2="214.25" y2="319.92" stroke="#5f5f5f" stroke-width="0.9"/>
<line x1="278.39" y1="402.5" x2="278.39" y2="406.1" stroke="#5f5f5f" stroke-width="0.9"/>
<text x="278.39" y="304.7" font-size="10.5" fill="#333333" text-anchor="middle" textLength="19.8" lengthAdjust="spacingAndGlyphs">FSU</text>
<path d="M428.67,372.8 L441.48,381.3 L454.28,382.3 L479.89,385.2 L505.5,388.9 L505.5,393.3 L479.89,389.8 L454.28,387.1 L441.48,385.7 L428.67,376.8Z" fill="#3fb072" fill-opacity="0.19"/>
<path d="M428.67,374.8 L441.48,383.4 L454.28,384.5 L479.89,387.5 L505.5,391.3" fill="none" stroke="#38ad6c" stroke-width="1.0" stroke-linejoin="round"/>
<path d="M428.67,372.8 L441.48,377.85 L454.28,378.1 L479.89,379.05 L505.5,380.4 L505.5,386.9 L479.89,385.15 L454.28,383.8 L441.48,382.7 L428.67,376.8Z" fill="#e6b84a" fill-opacity="0.24"/>
<path d="M428.67,374.8 L441.48,380.1 L454.28,380.6 L479.89,381.8 L505.5,383.4" fill="none" stroke="#dba52a" stroke-width="1.0" stroke-linejoin="round"/>
<path d="M428.67,372.3 L441.48,372.6 L454.28,372.1 L479.89,371.7 L505.5,371.3 L505.5,380.1 L479.89,379.6 L454.28,379.1 L441.48,378.6 L428.67,377.3Z" fill="#e3d4f3" fill-opacity="0.58"/>
<path d="M428.67,374.8 L441.48,375.6 L454.28,375.6 L479.89,375.7 L505.5,375.8" fill="none" stroke="#b476e0" stroke-width="1.0" stroke-linejoin="round"/>
<path d="M428.67,372.3 L441.48,372.35 L454.28,371.3 L479.89,370.15 L505.5,369.3 L505.5,378.1 L479.89,378.05 L454.28,378.3 L441.48,378.35 L428.67,377.3Z" fill="#f4c2c8" fill-opacity="0.58"/>
<path d="M428.67,374.8 L441.48,375.6 L454.28,375.3 L479.89,374.9 L505.5,374.8" fill="none" stroke="#ee4f5a" stroke-width="1.0" stroke-linejoin="round"/>
<path d="M377.3,363.5 L380.5,358 L384.8,374.2 L387.7,366.4 L390.3,375.2 L393.6,368.4 L396.5,371.3 L398.1,375.2 L400,373.3 L402.4,377.2 L406.3,355.6 L411.2,371.3 L414.1,366.4 L418,373.3 L421.6,363.9 L424.9,368.4 L428.7,374.8" fill="none" stroke="#a39797" stroke-width="4.6" stroke-linejoin="round"/>
<path d="M377.3,363.5 L380.5,358 L384.8,374.2 L387.7,366.4 L390.3,375.2 L393.6,368.4 L396.5,371.3 L398.1,375.2 L400,373.3 L402.4,377.2 L406.3,355.6 L411.2,371.3 L414.1,366.4 L418,373.3 L421.6,363.9 L424.9,368.4 L428.7,374.8" fill="none" stroke="#3f3a3b" stroke-width="0.9" stroke-linejoin="round"/>
<line x1="373.75" y1="292.4" x2="505.5" y2="292.4" stroke="#5f5f5f" stroke-width="1.1"/>
<line x1="505.5" y1="292.4" x2="505.5" y2="406.1" stroke="#5f5f5f" stroke-width="1.1"/>
<line x1="373.75" y1="402.5" x2="505.5" y2="402.5" stroke="#5f5f5f" stroke-width="1.1"/>
<line x1="377.45" y1="292.4" x2="377.45" y2="406.1" stroke="#a3a3a3" stroke-width="1.35"/>
<line x1="373.75" y1="374.98" x2="377.45" y2="374.98" stroke="#5f5f5f" stroke-width="0.9"/>
<line x1="373.75" y1="347.45" x2="377.45" y2="347.45" stroke="#5f5f5f" stroke-width="0.9"/>
<line x1="373.75" y1="319.92" x2="377.45" y2="319.92" stroke="#5f5f5f" stroke-width="0.9"/>
<line x1="441.48" y1="402.5" x2="441.48" y2="406.1" stroke="#5f5f5f" stroke-width="0.9"/>
<text x="441.48" y="304.7" font-size="10.5" fill="#333333" text-anchor="middle" textLength="40.3" lengthAdjust="spacingAndGlyphs">Oceania</text>
<text x="41.5" y="122.06" font-size="9.6" fill="#333333" text-anchor="end">0</text>
<text x="41.5" y="94.5" font-size="9.6" fill="#333333" text-anchor="end">5</text>
<text x="41.5" y="66.93" font-size="9.6" fill="#333333" text-anchor="end">10</text>
<text x="41.5" y="39.37" font-size="9.6" fill="#333333" text-anchor="end">15</text>
<text x="41.5" y="11.8" font-size="9.6" fill="#333333" text-anchor="end">20</text>
<text transform="translate(24.9,63.53) rotate(-90)" font-size="10.3" fill="#333333" text-anchor="middle" textLength="86" lengthAdjust="spacingAndGlyphs">NH<tspan font-size="7.6" dy="3.2">3</tspan><tspan dy="-3.2"> emission (Tg)</tspan></text>
<text x="41.5" y="256.8" font-size="9.6" fill="#333333" text-anchor="end">0</text>
<text x="41.5" y="229.3" font-size="9.6" fill="#333333" text-anchor="end">2</text>
<text x="41.5" y="201.8" font-size="9.6" fill="#333333" text-anchor="end">4</text>
<text x="41.5" y="174.3" font-size="9.6" fill="#333333" text-anchor="end">6</text>
<text x="41.5" y="146.8" font-size="9.6" fill="#333333" text-anchor="end">8</text>
<text transform="translate(24.9,198.4) rotate(-90)" font-size="10.3" fill="#333333" text-anchor="middle" textLength="86" lengthAdjust="spacingAndGlyphs">NH<tspan font-size="7.6" dy="3.2">3</tspan><tspan dy="-3.2"> emission (Tg)</tspan></text>
<text x="41.5" y="405.9" font-size="9.6" fill="#333333" text-anchor="end">0</text>
<text x="41.5" y="378.38" font-size="9.6" fill="#333333" text-anchor="end">1</text>
<text x="41.5" y="350.85" font-size="9.6" fill="#333333" text-anchor="end">2</text>
<text x="41.5" y="323.32" font-size="9.6" fill="#333333" text-anchor="end">3</text>
<text x="41.5" y="295.8" font-size="9.6" fill="#333333" text-anchor="end">4</text>
<text transform="translate(24.9,347.45) rotate(-90)" font-size="10.3" fill="#333333" text-anchor="middle" textLength="86" lengthAdjust="spacingAndGlyphs">NH<tspan font-size="7.6" dy="3.2">3</tspan><tspan dy="-3.2"> emission (Tg)</tspan></text>
<text x="48.7" y="418.6" font-size="9.8" fill="#333333" text-anchor="middle">2000</text>
<text x="113.87" y="418.6" font-size="9.8" fill="#333333" text-anchor="middle">2025</text>
<text x="178.23" y="418.6" font-size="9.8" fill="#333333" text-anchor="middle">2050</text>
<text x="114.06" y="434.1" font-size="10.2" fill="#333333" text-anchor="middle">Year</text>
<text x="213.25" y="418.6" font-size="9.8" fill="#333333" text-anchor="middle">2000</text>
<text x="278.19" y="418.6" font-size="9.8" fill="#333333" text-anchor="middle">2025</text>
<text x="342.34" y="418.6" font-size="9.8" fill="#333333" text-anchor="middle">2050</text>
<text x="278.39" y="434.1" font-size="10.2" fill="#333333" text-anchor="middle">Year</text>
<text x="376.45" y="418.6" font-size="9.8" fill="#333333" text-anchor="middle">2000</text>
<text x="441.28" y="418.6" font-size="9.8" fill="#333333" text-anchor="middle">2025</text>
<text x="505.3" y="418.6" font-size="9.8" fill="#333333" text-anchor="middle">2050</text>
<text x="441.48" y="434.1" font-size="10.2" fill="#333333" text-anchor="middle">Year</text>
<text x="542.3" y="268.7" font-size="9.8" fill="#333333" text-anchor="middle">2000</text>
<text x="607.23" y="268.7" font-size="9.8" fill="#333333" text-anchor="middle">2025</text>
<text x="671.37" y="268.7" font-size="9.8" fill="#333333" text-anchor="middle">2050</text>
<text x="607.43" y="284.04" font-size="10.2" fill="#333333" text-anchor="middle">Year</text>
<text x="0.3" y="8.4" font-size="14" fill="#000" font-weight="bold" stroke="#000" stroke-width="0.5">a</text>
<text x="0.5" y="453.7" font-size="14.5" fill="#000" font-weight="bold" stroke="#000" stroke-width="0.5">b</text>
<line x1="560" y1="302.2" x2="585.6" y2="302.2" stroke="#5cc08a" stroke-width="1.3"/>
<text x="590.2" y="304.8" font-size="8.2" fill="#333333" textLength="36" lengthAdjust="spacingAndGlyphs">SSP1–1.9</text>
<line x1="560" y1="315.95" x2="585.6" y2="315.95" stroke="#e8c068" stroke-width="1.3"/>
<text x="590.2" y="318.55" font-size="8.2" fill="#333333" textLength="36" lengthAdjust="spacingAndGlyphs">SSP2–4.5</text>
<line x1="560" y1="329.7" x2="585.6" y2="329.7" stroke="#cfa8ec" stroke-width="1.3"/>
<text x="590.2" y="332.3" font-size="8.2" fill="#333333" textLength="36" lengthAdjust="spacingAndGlyphs">SSP3–7.0</text>
<line x1="560" y1="343.45" x2="585.6" y2="343.45" stroke="#f06068" stroke-width="1.3"/>
<text x="590.2" y="346.05" font-size="8.2" fill="#333333" textLength="36" lengthAdjust="spacingAndGlyphs">SSP5–8.5</text>
<line x1="560" y1="357.2" x2="585.6" y2="357.2" stroke="#5e5e5e" stroke-width="1.1"/>
<text x="590.2" y="359.8" font-size="8.2" fill="#333333" textLength="39.1" lengthAdjust="spacingAndGlyphs">Historical</text>
<rect x="559" y="373.2" width="20.6" height="35.3" fill="#d9d9d9"/>
<line x1="559" y1="390.8" x2="579.6" y2="390.8" stroke="#3a3a3a" stroke-width="2"/>
<line x1="579.6" y1="373.4" x2="603.5" y2="373.4" stroke="#444" stroke-width="0.8" stroke-dasharray="1.2,1.2"/>
<line x1="579.3" y1="390.8" x2="600.3" y2="390.8" stroke="#999" stroke-width="0.8" stroke-dasharray="1.2,1.2"/>
<line x1="579.6" y1="408.3" x2="603.5" y2="408.3" stroke="#444" stroke-width="0.8" stroke-dasharray="1.2,1.2"/>
<text x="607" y="374.8" font-size="8.4" fill="#333333" textLength="17.4" lengthAdjust="spacingAndGlyphs">95%</text>
<text x="607" y="393" font-size="8.9" fill="#333333" textLength="29.8" lengthAdjust="spacingAndGlyphs">Median</text>
<text x="607" y="410.2" font-size="8.4" fill="#333333" textLength="12.2" lengthAdjust="spacingAndGlyphs">5%</text>
<defs><linearGradient id="rg" x1="0" y1="0" x2="0" y2="1"><stop offset="0" stop-color="#cf4747"/><stop offset="0.45" stop-color="#d75757"/><stop offset="1" stop-color="#c72a2f"/></linearGradient></defs>
<rect x="61.2" y="529" width="17" height="9.2" fill="#c2a6d8"/>
<rect x="61.2" y="518.1" width="17" height="10.9" fill="#9fc4e7"/>
<rect x="61.2" y="538.2" width="17" height="1.3" fill="#ffc000"/>
<rect x="61.2" y="539.5" width="17" height="5.4" fill="url(#rg)"/>
<rect x="94.43" y="520.6" width="17" height="17.6" fill="#c2a6d8"/>
<rect x="94.43" y="500.2" width="17" height="20.4" fill="#9fc4e7"/>
<rect x="94.43" y="538.2" width="17" height="2.7" fill="#ffc000"/>
<rect x="94.43" y="540.9" width="17" height="10.9" fill="url(#rg)"/>
<rect x="127.66" y="507.7" width="17" height="30.5" fill="#c2a6d8"/>
<rect x="127.66" y="473.7" width="17" height="34" fill="#9fc4e7"/>
<rect x="127.66" y="538.2" width="17" height="5.3" fill="#ffc000"/>
<rect x="127.66" y="543.5" width="17" height="19.3" fill="url(#rg)"/>
<rect x="160.89" y="498.7" width="17" height="39.5" fill="#c2a6d8"/>
<rect x="160.89" y="454" width="17" height="44.7" fill="#9fc4e7"/>
<rect x="160.89" y="538.2" width="17" height="6.9" fill="#ffc000"/>
<rect x="160.89" y="545.1" width="17" height="25.7" fill="url(#rg)"/>
<rect x="227.35" y="535.6" width="17" height="2.6" fill="#c2a6d8"/>
<rect x="227.35" y="533.7" width="17" height="1.9" fill="#9fc4e7"/>
<rect x="227.35" y="538.2" width="17" height="0.4" fill="#ffc000"/>
<rect x="227.35" y="538.6" width="17" height="1.1" fill="#d9454a"/>
<rect x="260.58" y="532.7" width="17" height="5.5" fill="#c2a6d8"/>
<rect x="260.58" y="527.4" width="17" height="5.3" fill="#9fc4e7"/>
<rect x="260.58" y="538.2" width="17" height="0.8" fill="#ffc000"/>
<rect x="260.58" y="539" width="17" height="2.7" fill="#d9454a"/>
<rect x="293.81" y="525" width="17" height="13.2" fill="#c2a6d8"/>
<rect x="293.81" y="510.7" width="17" height="14.3" fill="#9fc4e7"/>
<rect x="293.81" y="538.2" width="17" height="1.7" fill="#ffc000"/>
<rect x="293.81" y="539.9" width="17" height="6.9" fill="url(#rg)"/>
<rect x="327.04" y="518.8" width="17" height="19.4" fill="#c2a6d8"/>
<rect x="327.04" y="498" width="17" height="20.8" fill="#9fc4e7"/>
<rect x="327.04" y="538.2" width="17" height="2.7" fill="#ffc000"/>
<rect x="327.04" y="540.9" width="17" height="10" fill="url(#rg)"/>
<rect x="393.5" y="537" width="17" height="1.2" fill="#ffc000"/>
<rect x="393.5" y="538.2" width="17" height="3.3" fill="#c2a6d8"/>
<rect x="393.5" y="541.5" width="17" height="5.7" fill="#9fc4e7"/>
<rect x="393.5" y="547.2" width="17" height="0.8" fill="#d9454a"/>
<rect x="426.73" y="536.3" width="17" height="1.9" fill="#ffc000"/>
<rect x="426.73" y="538.2" width="17" height="6.3" fill="#c2a6d8"/>
<rect x="426.73" y="544.5" width="17" height="8.6" fill="#9fc4e7"/>
<rect x="426.73" y="553.1" width="17" height="0.8" fill="#d9454a"/>
<rect x="459.96" y="534.9" width="17" height="3.3" fill="#ffc000"/>
<rect x="459.96" y="538.2" width="17" height="11.8" fill="#c2a6d8"/>
<rect x="459.96" y="550" width="17" height="14.3" fill="#9fc4e7"/>
<rect x="459.96" y="564.3" width="17" height="0.7" fill="#d9454a"/>
<rect x="493.19" y="533.5" width="17" height="4.7" fill="#ffc000"/>
<rect x="493.19" y="538.2" width="17" height="17" fill="#c2a6d8"/>
<rect x="493.19" y="555.2" width="17" height="21" fill="#9fc4e7"/>
<rect x="493.19" y="576.2" width="17" height="0.8" fill="#d9454a"/>
<rect x="559.65" y="535.9" width="17" height="2.3" fill="#ffc000"/>
<rect x="559.65" y="538.2" width="17" height="7.3" fill="#c2a6d8"/>
<rect x="559.65" y="545.5" width="17" height="9.9" fill="#9fc4e7"/>
<rect x="559.65" y="555.4" width="17" height="0.7" fill="#d9454a"/>
<rect x="592.88" y="534.7" width="17" height="3.5" fill="#ffc000"/>
<rect x="592.88" y="538.2" width="17" height="13.5" fill="#c2a6d8"/>
<rect x="592.88" y="551.7" width="17" height="16.5" fill="#9fc4e7"/>
<rect x="592.88" y="568.2" width="17" height="0.8" fill="#d9454a"/>
<rect x="626.11" y="531.9" width="17" height="6.3" fill="#ffc000"/>
<rect x="626.11" y="538.2" width="17" height="23.7" fill="#c2a6d8"/>
<rect x="626.11" y="561.9" width="17" height="29.6" fill="#9fc4e7"/>
<rect x="626.11" y="591.5" width="17" height="0.7" fill="#d9454a"/>
<rect x="659.34" y="528.6" width="17" height="9.6" fill="#ffc000"/>
<rect x="659.34" y="538.2" width="17" height="34.5" fill="#c2a6d8"/>
<rect x="659.34" y="572.7" width="17" height="42.5" fill="#9fc4e7"/>
<rect x="659.34" y="615.2" width="17" height="0.8" fill="#d9454a"/>
<line x1="48.2" y1="451.1" x2="684.6" y2="451.1" stroke="#c3c3c3" stroke-width="1.4"/>
<line x1="53" y1="451.1" x2="53" y2="625.5" stroke="#b3b3b3" stroke-width="1.4"/>
<line x1="684.3" y1="451.1" x2="684.3" y2="625.5" stroke="#555" stroke-width="1.2"/>
<line x1="48.2" y1="625.4" x2="684.6" y2="625.4" stroke="#555" stroke-width="1.2"/>
<line x1="53" y1="538.2" x2="684.6" y2="538.2" stroke="#5a5a5a" stroke-width="1"/>
<line x1="48.2" y1="485.85" x2="53" y2="485.85" stroke="#555" stroke-width="0.9"/>
<line x1="48.2" y1="520.75" x2="53" y2="520.75" stroke="#555" stroke-width="0.9"/>
<line x1="48.2" y1="555.65" x2="53" y2="555.65" stroke="#555" stroke-width="0.9"/>
<line x1="48.2" y1="590.55" x2="53" y2="590.55" stroke="#555" stroke-width="0.9"/>
<text x="43.4" y="454.4" font-size="9.6" fill="#333333" text-anchor="end" textLength="25.6" lengthAdjust="spacingAndGlyphs">1,000</text>
<text x="43.4" y="489.15" font-size="9.6" fill="#333333" text-anchor="end" textLength="16.6" lengthAdjust="spacingAndGlyphs">600</text>
<text x="43.4" y="524.05" font-size="9.6" fill="#333333" text-anchor="end" textLength="16.6" lengthAdjust="spacingAndGlyphs">200</text>
<text x="43.4" y="558.95" font-size="9.6" fill="#333333" text-anchor="end" textLength="20.8" lengthAdjust="spacingAndGlyphs">–200</text>
<text x="43.4" y="593.85" font-size="9.6" fill="#333333" text-anchor="end" textLength="20.8" lengthAdjust="spacingAndGlyphs">–600</text>
<text x="43.4" y="628.8" font-size="9.6" fill="#333333" text-anchor="end" textLength="29.8" lengthAdjust="spacingAndGlyphs">–1,000</text>
<line x1="69.7" y1="521.5" x2="69.7" y2="528.1" stroke="#5c5c5c" stroke-width="0.8"/>
<line x1="67.8" y1="521.5" x2="71.6" y2="521.5" stroke="#6a6a6a" stroke-width="0.8"/>
<line x1="67.8" y1="528.1" x2="71.6" y2="528.1" stroke="#6a6a6a" stroke-width="0.8"/>
<line x1="102.93" y1="506.3" x2="102.93" y2="521.5" stroke="#5c5c5c" stroke-width="0.8"/>
<line x1="101.03" y1="506.3" x2="104.83" y2="506.3" stroke="#6a6a6a" stroke-width="0.8"/>
<line x1="101.03" y1="521.5" x2="104.83" y2="521.5" stroke="#6a6a6a" stroke-width="0.8"/>
<line x1="136.16" y1="482.9" x2="136.16" y2="513.4" stroke="#5c5c5c" stroke-width="0.8"/>
<line x1="134.26" y1="482.9" x2="138.06" y2="482.9" stroke="#6a6a6a" stroke-width="0.8"/>
<line x1="134.26" y1="513.4" x2="138.06" y2="513.4" stroke="#6a6a6a" stroke-width="0.8"/>
<line x1="169.39" y1="466.9" x2="169.39" y2="506.8" stroke="#5c5c5c" stroke-width="0.8"/>
<line x1="167.49" y1="466.9" x2="171.29" y2="466.9" stroke="#6a6a6a" stroke-width="0.8"/>
<line x1="167.49" y1="506.8" x2="171.29" y2="506.8" stroke="#6a6a6a" stroke-width="0.8"/>
<line x1="302.31" y1="512.7" x2="302.31" y2="525" stroke="#5c5c5c" stroke-width="0.8"/>
<line x1="300.41" y1="512.7" x2="304.21" y2="512.7" stroke="#6a6a6a" stroke-width="0.8"/>
<line x1="300.41" y1="525" x2="304.21" y2="525" stroke="#6a6a6a" stroke-width="0.8"/>
<line x1="335.54" y1="500.4" x2="335.54" y2="520.3" stroke="#5c5c5c" stroke-width="0.8"/>
<line x1="333.64" y1="500.4" x2="337.44" y2="500.4" stroke="#6a6a6a" stroke-width="0.8"/>
<line x1="333.64" y1="520.3" x2="337.44" y2="520.3" stroke="#6a6a6a" stroke-width="0.8"/>
<line x1="435.23" y1="549" x2="435.23" y2="554.5" stroke="#5c5c5c" stroke-width="0.8"/>
<line x1="433.33" y1="549" x2="437.13" y2="549" stroke="#6a6a6a" stroke-width="0.8"/>
<line x1="433.33" y1="554.5" x2="437.13" y2="554.5" stroke="#6a6a6a" stroke-width="0.8"/>
<line x1="468.46" y1="554.3" x2="468.46" y2="569" stroke="#5c5c5c" stroke-width="0.8"/>
<line x1="466.56" y1="554.3" x2="470.36" y2="554.3" stroke="#6a6a6a" stroke-width="0.8"/>
<line x1="466.56" y1="569" x2="470.36" y2="569" stroke="#6a6a6a" stroke-width="0.8"/>
<line x1="501.69" y1="560.9" x2="501.69" y2="583.4" stroke="#5c5c5c" stroke-width="0.8"/>
<line x1="499.79" y1="560.9" x2="503.59" y2="560.9" stroke="#6a6a6a" stroke-width="0.8"/>
<line x1="499.79" y1="583.4" x2="503.59" y2="583.4" stroke="#6a6a6a" stroke-width="0.8"/>
<line x1="568.15" y1="551.5" x2="568.15" y2="555.8" stroke="#5c5c5c" stroke-width="0.8"/>
<line x1="566.25" y1="551.5" x2="570.05" y2="551.5" stroke="#6a6a6a" stroke-width="0.8"/>
<line x1="566.25" y1="555.8" x2="570.05" y2="555.8" stroke="#6a6a6a" stroke-width="0.8"/>
<line x1="601.38" y1="558.2" x2="601.38" y2="572.1" stroke="#5c5c5c" stroke-width="0.8"/>
<line x1="599.48" y1="558.2" x2="603.28" y2="558.2" stroke="#6a6a6a" stroke-width="0.8"/>
<line x1="599.48" y1="572.1" x2="603.28" y2="572.1" stroke="#6a6a6a" stroke-width="0.8"/>
<line x1="634.61" y1="573.1" x2="634.61" y2="597.7" stroke="#5c5c5c" stroke-width="0.8"/>
<line x1="632.71" y1="573.1" x2="636.51" y2="573.1" stroke="#6a6a6a" stroke-width="0.8"/>
<line x1="632.71" y1="597.7" x2="636.51" y2="597.7" stroke="#6a6a6a" stroke-width="0.8"/>
<line x1="667.84" y1="587" x2="667.84" y2="624.6" stroke="#5c5c5c" stroke-width="0.8"/>
<line x1="665.94" y1="587" x2="669.74" y2="587" stroke="#6a6a6a" stroke-width="0.8"/>
<line x1="665.94" y1="624.6" x2="669.74" y2="624.6" stroke="#6a6a6a" stroke-width="0.8"/>
<path d="M69.7,521.4 L72.9,524.7 L69.7,528 L66.5,524.7 Z" fill="#fff" stroke="#333" stroke-width="0.9"/>
<path d="M102.93,510.5 L106.13,513.8 L102.93,517.1 L99.73,513.8 Z" fill="#fff" stroke="#333" stroke-width="0.9"/>
<path d="M136.16,495 L139.36,498.3 L136.16,501.6 L132.96,498.3 Z" fill="#fff" stroke="#333" stroke-width="0.9"/>
<path d="M169.39,483.6 L172.59,486.9 L169.39,490.2 L166.19,486.9 Z" fill="#fff" stroke="#333" stroke-width="0.9"/>
<path d="M235.85,531.9 L239.05,535.2 L235.85,538.5 L232.65,535.2 Z" fill="#fff" stroke="#333" stroke-width="0.9"/>
<path d="M269.08,527.8 L272.28,531.1 L269.08,534.4 L265.88,531.1 Z" fill="#fff" stroke="#333" stroke-width="0.9"/>
<path d="M302.31,515.5 L305.51,518.8 L302.31,522.1 L299.11,518.8 Z" fill="#fff" stroke="#333" stroke-width="0.9"/>
<path d="M335.54,506.9 L338.74,510.2 L335.54,513.5 L332.34,510.2 Z" fill="#fff" stroke="#333" stroke-width="0.9"/>
<path d="M402,543.3 L405.2,546.6 L402,549.9 L398.8,546.6 Z" fill="#fff" stroke="#333" stroke-width="0.9"/>
<path d="M435.23,548 L438.43,551.3 L435.23,554.6 L432.03,551.3 Z" fill="#fff" stroke="#333" stroke-width="0.9"/>
<path d="M468.46,558.6 L471.66,561.9 L468.46,565.2 L465.26,561.9 Z" fill="#fff" stroke="#333" stroke-width="0.9"/>
<path d="M501.69,569 L504.89,572.3 L501.69,575.6 L498.49,572.3 Z" fill="#fff" stroke="#333" stroke-width="0.9"/>
<path d="M568.15,550 L571.35,553.3 L568.15,556.6 L564.95,553.3 Z" fill="#fff" stroke="#333" stroke-width="0.9"/>
<path d="M601.38,561.7 L604.58,565 L601.38,568.3 L598.18,565 Z" fill="#fff" stroke="#333" stroke-width="0.9"/>
<path d="M634.61,582.1 L637.81,585.4 L634.61,588.7 L631.41,585.4 Z" fill="#fff" stroke="#333" stroke-width="0.9"/>
<path d="M667.84,602.5 L671.04,605.8 L667.84,609.1 L664.64,605.8 Z" fill="#fff" stroke="#333" stroke-width="0.9"/>
<text transform="translate(75.3,640.05) rotate(-90)" font-size="10.6" fill="#333333" text-anchor="middle" textLength="21.9" lengthAdjust="spacingAndGlyphs">2025</text>
<text transform="translate(108.53,640.05) rotate(-90)" font-size="10.6" fill="#333333" text-anchor="middle" textLength="21.9" lengthAdjust="spacingAndGlyphs">2030</text>
<text transform="translate(141.76,640.05) rotate(-90)" font-size="10.6" fill="#333333" text-anchor="middle" textLength="21.9" lengthAdjust="spacingAndGlyphs">2040</text>
<text transform="translate(174.99,640.05) rotate(-90)" font-size="10.6" fill="#333333" text-anchor="middle" textLength="21.9" lengthAdjust="spacingAndGlyphs">2050</text>
<text transform="translate(241.45,640.05) rotate(-90)" font-size="10.6" fill="#333333" text-anchor="middle" textLength="21.9" lengthAdjust="spacingAndGlyphs">2025</text>
<text transform="translate(274.68,640.05) rotate(-90)" font-size="10.6" fill="#333333" text-anchor="middle" textLength="21.9" lengthAdjust="spacingAndGlyphs">2030</text>
<text transform="translate(307.91,640.05) rotate(-90)" font-size="10.6" fill="#333333" text-anchor="middle" textLength="21.9" lengthAdjust="spacingAndGlyphs">2040</text>
<text transform="translate(341.14,640.05) rotate(-90)" font-size="10.6" fill="#333333" text-anchor="middle" textLength="21.9" lengthAdjust="spacingAndGlyphs">2050</text>
<text transform="translate(407.6,640.05) rotate(-90)" font-size="10.6" fill="#333333" text-anchor="middle" textLength="21.9" lengthAdjust="spacingAndGlyphs">2025</text>
<text transform="translate(440.83,640.05) rotate(-90)" font-size="10.6" fill="#333333" text-anchor="middle" textLength="21.9" lengthAdjust="spacingAndGlyphs">2030</text>
<text transform="translate(474.06,640.05) rotate(-90)" font-size="10.6" fill="#333333" text-anchor="middle" textLength="21.9" lengthAdjust="spacingAndGlyphs">2040</text>
<text transform="translate(507.29,640.05) rotate(-90)" font-size="10.6" fill="#333333" text-anchor="middle" textLength="21.9" lengthAdjust="spacingAndGlyphs">2050</text>
<text transform="translate(573.75,640.05) rotate(-90)" font-size="10.6" fill="#333333" text-anchor="middle" textLength="21.9" lengthAdjust="spacingAndGlyphs">2025</text>
<text transform="translate(606.98,640.05) rotate(-90)" font-size="10.6" fill="#333333" text-anchor="middle" textLength="21.9" lengthAdjust="spacingAndGlyphs">2030</text>
<text transform="translate(640.21,640.05) rotate(-90)" font-size="10.6" fill="#333333" text-anchor="middle" textLength="21.9" lengthAdjust="spacingAndGlyphs">2040</text>
<text transform="translate(673.44,640.05) rotate(-90)" font-size="10.6" fill="#333333" text-anchor="middle" textLength="21.9" lengthAdjust="spacingAndGlyphs">2050</text>
<text x="115.5" y="668.6" font-size="11.2" fill="#333333" text-anchor="middle" textLength="41.9" lengthAdjust="spacingAndGlyphs">SSP1–1.9</text>
<text x="285.3" y="668.6" font-size="11.2" fill="#333333" text-anchor="middle" textLength="45.9" lengthAdjust="spacingAndGlyphs">SSP2–4.5</text>
<text x="454.9" y="668.6" font-size="11.2" fill="#333333" text-anchor="middle" textLength="46.6" lengthAdjust="spacingAndGlyphs">SSP3–7.0</text>
<text x="619" y="668.6" font-size="11.2" fill="#333333" text-anchor="middle" textLength="46.2" lengthAdjust="spacingAndGlyphs">SSP5–8.5</text>
<text transform="translate(9.3,538.2) rotate(-90)" font-size="10.8" fill="#333333" text-anchor="middle" textLength="134.5" lengthAdjust="spacingAndGlyphs">Cost or benefit (billion US$)</text>
<rect x="187.8" y="465.6" width="6.8" height="6.8" fill="#c2a6d8"/>
<rect x="281" y="465.6" width="6.8" height="6.8" fill="#9fc4e7"/>
<rect x="399.6" y="465.6" width="6.8" height="6.8" fill="#ffc000"/>
<rect x="499.3" y="465.6" width="6.8" height="6.8" fill="#d9454a"/>
<text x="198.8" y="472.3" font-size="10.8" fill="#333333" textLength="69.1" lengthAdjust="spacingAndGlyphs">Health impact</text>
<text x="292.1" y="472.3" font-size="10.8" fill="#333333" textLength="88.9" lengthAdjust="spacingAndGlyphs">Ecosystem impact</text>
<text x="410.2" y="472.3" font-size="10.8" fill="#333333" textLength="74" lengthAdjust="spacingAndGlyphs">Climate impact</text>
<text x="509.7" y="472.3" font-size="10.8" fill="#333333" textLength="77.6" lengthAdjust="spacingAndGlyphs">Abatement cost</text>
<text x="613.5" y="472.3" font-size="10.8" fill="#333333" textLength="53.8" lengthAdjust="spacingAndGlyphs">Net benefit</text>
<path d="M606.1,465.6 L609.4,468.9 L606.1,472.2 L602.8,468.9 Z" fill="#fff" stroke="#333" stroke-width="0.9"/>
</svg>
</body></html>
